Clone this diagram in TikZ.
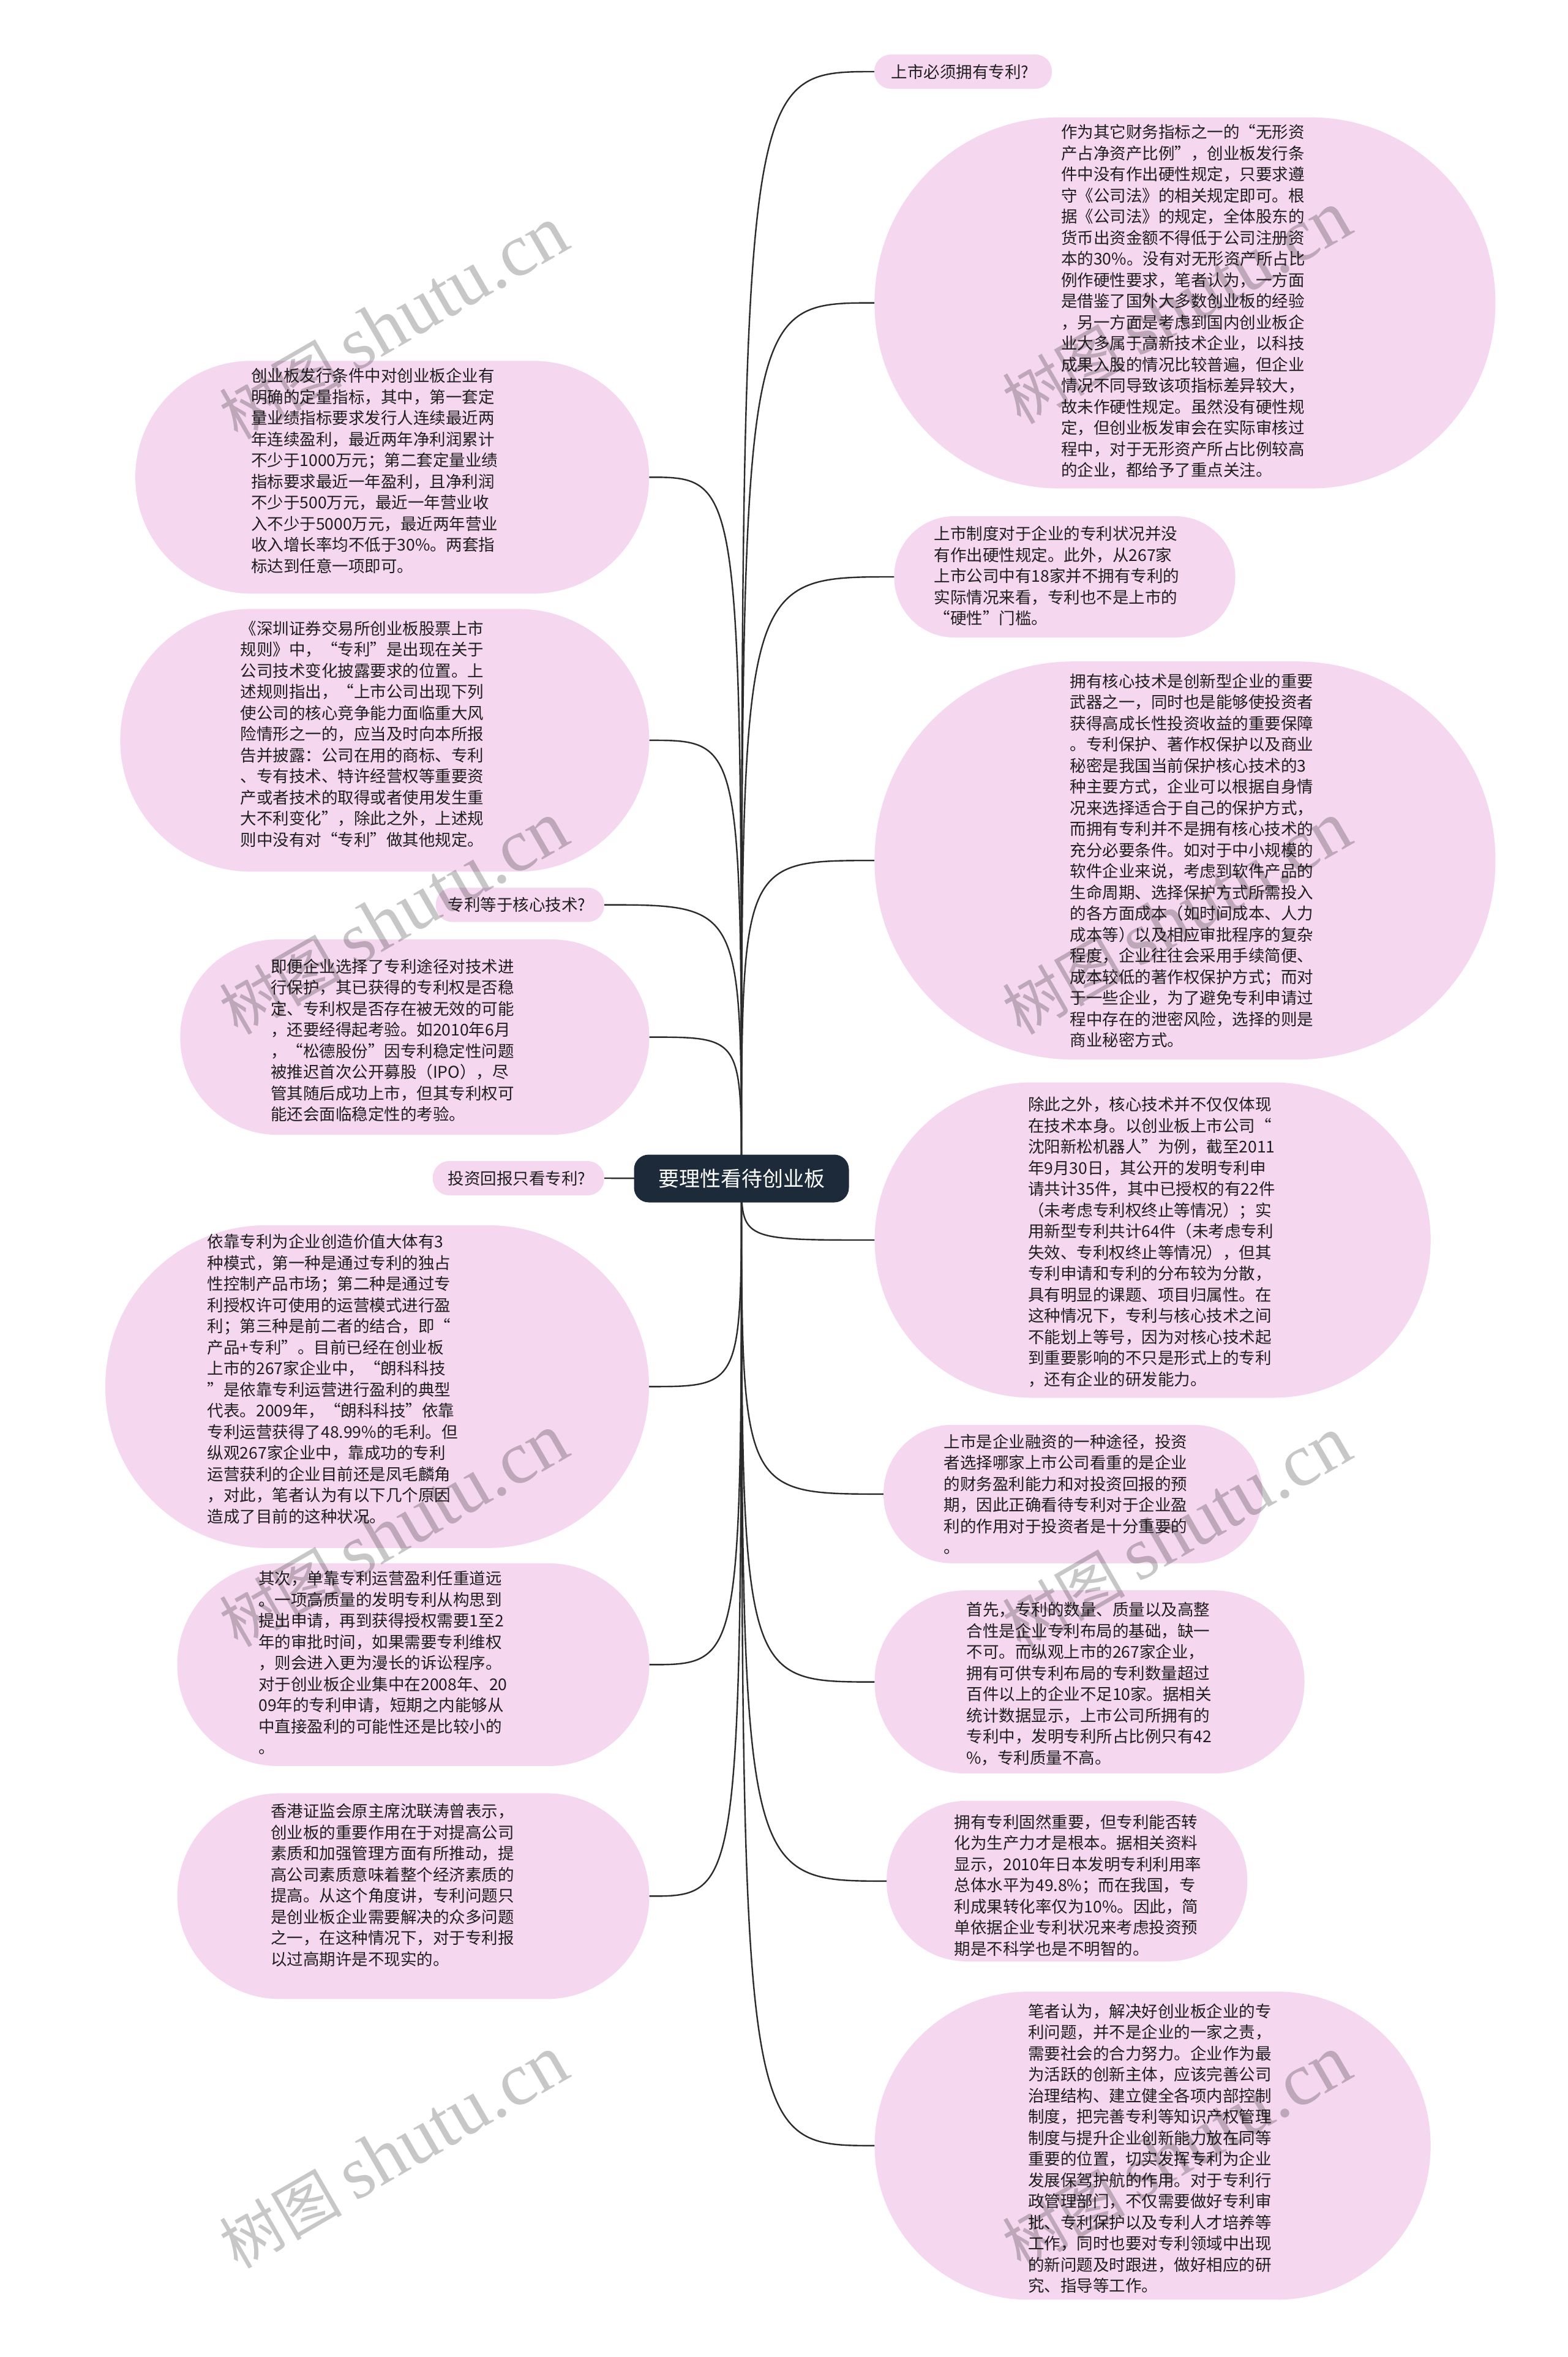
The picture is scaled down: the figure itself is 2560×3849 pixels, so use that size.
\documentclass[tikz,border=0pt]{standalone}
\usepackage{fontspec}
\newfontfamily\cjk{Noto Sans CJK SC}
\newfontfamily\wmserif{Liberation Serif}
\definecolor{nodepink}{HTML}{F5D7EF}
\definecolor{rootblue}{HTML}{1D2A3A}
\definecolor{linec}{HTML}{2B2B2B}
\definecolor{txtc}{HTML}{1E1E1E}
\tikzset{
  bubble/.style={fill=nodepink, draw=none, inner sep=0pt},
  body/.style={font=\cjk\fontsize{26.5}{34.5}\selectfont, text=txtc, align=left, inner sep=0pt, anchor=west},
  conn/.style={draw=linec, line width=2.4pt},
  rootbox/.style={fill=rootblue, rounded corners=24pt, minimum width=351pt, minimum height=78pt, inner sep=0pt, text=white, font=\cjk\fontsize{34}{40}\selectfont},
  wm/.style={text=black, opacity=0.22, rotate=30, inner sep=0pt}
}
\newcommand{\wmtext}{{\cjk\fontsize{100}{110}\selectfont 树图}\hspace{22pt}{\wmserif\fontsize{122}{130}\selectfont shutu.cn}}
\begin{document}
\begin{tikzpicture}[x=1pt,y=-1pt]
\useasboundingbox (0,0) rectangle (2560,3849);
\fill[white] (0,0) rectangle (2560,3849);
% bubbles
\node[bubble, rounded corners=27pt, minimum width=290pt, minimum height=56pt] (r1) at (1573,117) {};
\node[bubble, rounded corners=302pt, minimum width=1014pt, minimum height=606pt] (r2) at (1935.4,494.6) {};
\node[bubble, rounded corners=98pt, minimum width=557pt, minimum height=198pt] (r3) at (1739,942) {};
\node[bubble, rounded corners=324pt, minimum width=1014pt, minimum height=650pt] (r4) at (1935.4,1405.2) {};
\node[bubble, rounded corners=257pt, minimum width=908pt, minimum height=515pt] (r5) at (1882.6,2025) {};
\node[bubble, rounded corners=112pt, minimum width=619pt, minimum height=226pt] (r6) at (1752.5,2439.8) {};
\node[bubble, rounded corners=149pt, minimum width=702pt, minimum height=299pt] (r7) at (1779.5,2746.6) {};
\node[bubble, rounded corners=130pt, minimum width=589pt, minimum height=262pt] (r8) at (1742.7,3071.8) {};
\node[bubble, rounded corners=251pt, minimum width=908pt, minimum height=503pt] (r9) at (1882.6,3503.8) {};
\node[bubble, rounded corners=189pt, minimum width=839pt, minimum height=380pt] (l1) at (640.6,779.3) {};
\node[bubble, rounded corners=214pt, minimum width=864pt, minimum height=429pt] (l2) at (628.4,1208.9) {};
\node[bubble, rounded corners=27pt, minimum width=275pt, minimum height=56pt] (l3) at (849.3,1477.6) {};
\node[bubble, rounded corners=159pt, minimum width=766pt, minimum height=319pt] (l4) at (677.4,1693.6) {};
\node[bubble, rounded corners=27pt, minimum width=280pt, minimum height=56pt] (l5) at (846.8,1924) {};
\node[bubble, rounded corners=263pt, minimum width=888pt, minimum height=527pt] (l6) at (616,2264.3) {};
\node[bubble, rounded corners=165pt, minimum width=771pt, minimum height=331pt] (l7) at (675,2718.4) {};
\node[bubble, rounded corners=168pt, minimum width=771pt, minimum height=336pt] (l8) at (675,3096.4) {};
% root centre
\coordinate (rc) at (1211,1924.5);
% connectors
\foreach \n in {r1,r2,r3,r4,r5,r6,r7,r8,r9}{
  \draw[conn] (rc) .. controls (rc |- \n.west) .. (\n.west);
}
\foreach \n in {l1,l2,l3,l4,l6,l7,l8}{
  \draw[conn] (rc) .. controls (rc |- \n.east) .. (\n.east);
}
\draw[conn] (rc) -- (l5.east);
% root
\node[rootbox] (root) at (rc) {要理性看待创业板};
% texts
\node[body] (r1t) at (1455.6,117) {上市必须拥有专利?};
\node[body] (r2t) at (1733,492) {作为其它财务指标之一的“无形资\\产占净资产比例”，创业板发行条\\件中没有作出硬性规定，只要求遵\\守《公司法》的相关规定即可。根\\据《公司法》的规定，全体股东的\\货币出资金额不得低于公司注册资\\本的30\%。没有对无形资产所占比\\例作硬性要求，笔者认为，一方面\\是借鉴了国外大多数创业板的经验\\，另一方面是考虑到国内创业板企\\业大多属于高新技术企业，以科技\\成果入股的情况比较普遍，但企业\\情况不同导致该项指标差异较大，\\故未作硬性规定。虽然没有硬性规\\定，但创业板发审会在实际审核过\\程中，对于无形资产所占比例较高\\的企业，都给予了重点关注。};
\node[body] (r3t) at (1525.5,940.4) {上市制度对于企业的专利状况并没\\有作出硬性规定。此外，从267家\\上市公司中有18家并不拥有专利的\\实际情况来看，专利也不是上市的\\“硬性”门槛。};
\node[body] (r4t) at (1747.6,1405.2) {拥有核心技术是创新型企业的重要\\武器之一，同时也是能够使投资者\\获得高成长性投资收益的重要保障\\。专利保护、著作权保护以及商业\\秘密是我国当前保护核心技术的3\\种主要方式，企业可以根据自身情\\况来选择适合于自己的保护方式，\\而拥有专利并不是拥有核心技术的\\充分必要条件。如对于中小规模的\\软件企业来说，考虑到软件产品的\\生命周期、选择保护方式所需投入\\的各方面成本（如时间成本、人力\\成本等）以及相应审批程序的复杂\\程度，企业往往会采用手续简便、\\成本较低的著作权保护方式；而对\\于一些企业，为了避免专利申请过\\程中存在的泄密风险，选择的则是\\商业秘密方式。};
\node[body] (r5t) at (1679,2028.4) {除此之外，核心技术并不仅仅体现\\在技术本身。以创业板上市公司“\\沈阳新松机器人”为例，截至2011\\年9月30日，其公开的发明专利申\\请共计35件，其中已授权的有22件\\（未考虑专利权终止等情况）；实\\用新型专利共计64件（未考虑专利\\失效、专利权终止等情况），但其\\专利申请和专利的分布较为分散，\\具有明显的课题、项目归属性。在\\这种情况下，专利与核心技术之间\\不能划上等号，因为对核心技术起\\到重要影响的不只是形式上的专利\\，还有企业的研发能力。};
\node[body] (r6t) at (1541.4,2440.2) {上市是企业融资的一种途径，投资\\者选择哪家上市公司看重的是企业\\的财务盈利能力和对投资回报的预\\期，因此正确看待专利对于企业盈\\利的作用对于投资者是十分重要的\\。};
\node[body] (r7t) at (1578.3,2749.6) {首先，专利的数量、质量以及高整\\合性是企业专利布局的基础，缺一\\不可。而纵观上市的267家企业，\\拥有可供专利布局的专利数量超过\\百件以上的企业不足10家。据相关\\统计数据显示，上市公司所拥有的\\专利中，发明专利所占比例只有42\\\%，专利质量不高。};
\node[body] (r8t) at (1558.6,3078.4) {拥有专利固然重要，但专利能否转\\化为生产力才是根本。据相关资料\\显示，2010年日本发明专利利用率\\总体水平为49.8\%；而在我国，专\\利成果转化率仅为10\%。因此，简\\单依据企业专利状况来考虑投资预\\期是不科学也是不明智的。};
\node[body] (r9t) at (1679,3508.4) {笔者认为，解决好创业板企业的专\\利问题，并不是企业的一家之责，\\需要社会的合力努力。企业作为最\\为活跃的创新主体，应该完善公司\\治理结构、建立健全各项内部控制\\制度，把完善专利等知识产权管理\\制度与提升企业创新能力放在同等\\重要的位置，切实发挥专利为企业\\发展保驾护航的作用。对于专利行\\政管理部门，不仅需要做好专利审\\批、专利保护以及专利人才培养等\\工作，同时也要对专利领域中出现\\的新问题及时跟进，做好相应的研\\究、指导等工作。};
\node[body] (l1t) at (409.9,768.9) {创业板发行条件中对创业板企业有\\明确的定量指标，其中，第一套定\\量业绩指标要求发行人连续最近两\\年连续盈利，最近两年净利润累计\\不少于1000万元；第二套定量业绩\\指标要求最近一年盈利，且净利润\\不少于500万元，最近一年营业收\\入不少于5000万元，最近两年营业\\收入增长率均不低于30\%。两套指\\标达到任意一项即可。};
\node[body] (l2t) at (392.7,1198.5) {《深圳证券交易所创业板股票上市\\规则》中，“专利”是出现在关于\\公司技术变化披露要求的位置。上\\述规则指出，“上市公司出现下列\\使公司的核心竞争能力面临重大风\\险情形之一的，应当及时向本所报\\告并披露：公司在用的商标、专利\\、专有技术、特许经营权等重要资\\产或者技术的取得或者使用发生重\\大不利变化”，除此之外，上述规\\则中没有对“专利”做其他规定。};
\node[body] (l3t) at (731.4,1477.6) {专利等于核心技术?};
\node[body] (l4t) at (441.8,1699) {即便企业选择了专利途径对技术进\\行保护，其已获得的专利权是否稳\\定、专利权是否存在被无效的可能\\，还要经得起考验。如2010年6月\\，“松德股份”因专利稳定性问题\\被推迟首次公开募股（IPO），尽\\管其随后成功上市，但其专利权可\\能还会面临稳定性的考验。};
\node[body] (l5t) at (731.4,1924) {投资回报只看专利?};
\node[body] (l6t) at (338.7,2251.7) {依靠专利为企业创造价值大体有3\\种模式，第一种是通过专利的独占\\性控制产品市场；第二种是通过专\\利授权许可使用的运营模式进行盈\\利；第三种是前二者的结合，即“\\产品+专利”。目前已经在创业板\\上市的267家企业中，“朗科科技\\”是依靠专利运营进行盈利的典型\\代表。2009年，“朗科科技”依靠\\专利运营获得了48.99\%的毛利。但\\纵观267家企业中，靠成功的专利\\运营获利的企业目前还是凤毛麟角\\，对此，笔者认为有以下几个原因\\造成了目前的这种状况。};
\node[body] (l7t) at (422.2,2715.2) {其次，单靠专利运营盈利任重道远\\。一项高质量的发明专利从构思到\\提出申请，再到获得授权需要1至2\\年的审批时间，如果需要专利维权\\，则会进入更为漫长的诉讼程序。\\对于创业板企业集中在2008年、20\\09年的专利申请，短期之内能够从\\中直接盈利的可能性还是比较小的\\。};
\node[body] (l8t) at (441.8,3078.5) {香港证监会原主席沈联涛曾表示，\\创业板的重要作用在于对提高公司\\素质和加强管理方面有所推动，提\\高公司素质意味着整个经济素质的\\提高。从这个角度讲，专利问题只\\是创业板企业需要解决的众多问题\\之一，在这种情况下，对于专利报\\以过高期许是不现实的。};
% watermarks
\foreach \p [count=\i] in {(643,528),(1922,503),(643,1500),(1922,1500),(643,2500),(1922,2504),(643,3515),(1922,3515)}{
  \node[wm] (wm\i) at \p {\wmtext};
}
\end{tikzpicture}
\end{document}
